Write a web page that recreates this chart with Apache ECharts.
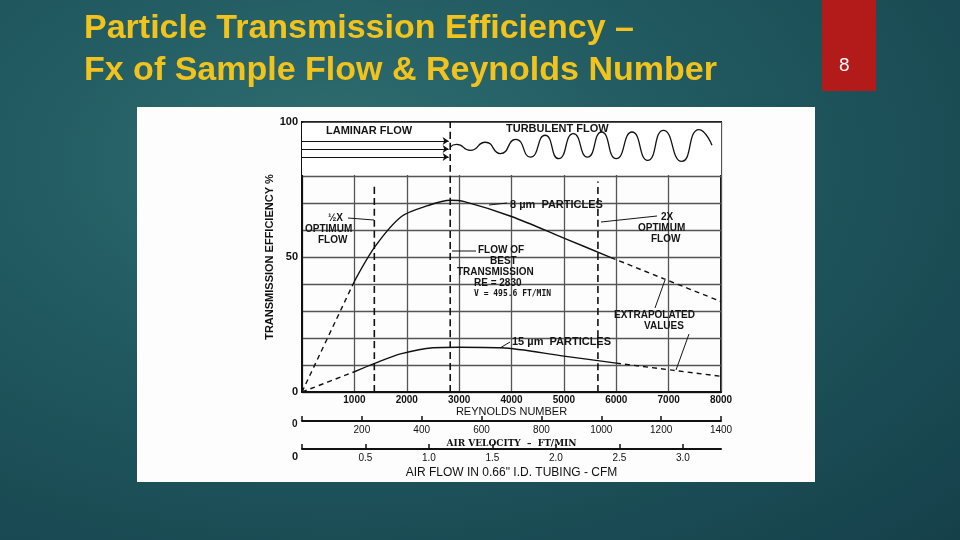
<!DOCTYPE html>
<html><head><meta charset="utf-8">
<script src="https://cdn.jsdelivr.net/npm/echarts@6/dist/echarts.min.js"></script>
<style>
html,body{margin:0;padding:0;width:960px;height:540px;overflow:hidden;
background:radial-gradient(ellipse at 35% 30%,#2f6f72 0%,#215a60 40%,#15404a 100%);}
#c{position:absolute;left:0;top:0;width:960px;height:540px;}
</style></head><body><div id="c"></div>
<script>
// Reynolds number vs efficiency (%), 8 µm particles
const re8  = [0, 1000, 1400, 1900, 2400, 2830, 3100, 4000, 5000, 5900, 6900, 8000];
const eff8 = [0, 41, 54, 65, 69, 71, 70.5, 65, 57, 49.8, 42, 33.5];
// 15 µm particles
const re15  = [0, 1000, 1400, 1900, 2500, 3000, 3800, 5000, 6000, 7100, 8000];
const eff15 = [0, 7.5, 10.7, 14.2, 16.4, 16.6, 16.4, 13.3, 10.7, 8, 5.8];
// turbulent-flow sketch (Reynolds, level %)
const waveRe  = [2830, 2950, 3214, 3500, 3787, 4080, 4360, 4640, 4900, 5180, 5450, 5720, 6000, 6300, 6600, 6900, 7250, 7580, 7828];
const waveVal = [90.7, 91.7, 89.5, 92.5, 88.3, 93.6, 87.0, 95.1, 86.4, 95.7, 87.0, 96.3, 86.4, 96.3, 85.8, 96.9, 85.4, 97.2, 91.4];
// reference flows
const refRe  = [1381, 2830, 5650];
const refTop = [76, 100, 78];
const laminarLevels = [93, 90, 87];
const yTicks = ['0', '50', '100'];
const velTicks = [0, 200, 400, 600, 800, 1000, 1200, 1400];
const cfmTicks = [0, 0.5, 1.0, 1.5, 2.0, 2.5, 3.0];

const pairs = (xs, ys) => xs.map((x, i) => [x, ys[i]]);
const d8 = pairs(re8, eff8), d15 = pairs(re15, eff15);
const F = 'Liberation Sans, Arial, sans-serif';
const lab = {color:'#111', fontFamily:F, fontWeight:'bold', fontSize:10};

const chart = echarts.init(document.getElementById('c'));
const txt = (x, y, s, o) => Object.assign({type:'text', left:x, top:y, z:50,
  style:Object.assign({text:s, fill:'#151515', font:'bold 10px ' + F}, o||{})});
const ln = (x1,y1,x2,y2) => ({type:'line', z:50, shape:{x1,y1,x2,y2}, style:{stroke:'#151515', lineWidth:1}});

const dashed = {color:'#111', width:1.4, type:[5,4]};
const solid = {color:'#111', width:1.4};
const mk = (data, style, smooth) => ({type:'line', data, symbol:'none', smooth:smooth||0.3, lineStyle:style, z:5, animation:false});

const series = [
  mk(d8.slice(0, 2), dashed, 0), mk(d8.slice(1, 10), solid), mk(d8.slice(9), dashed, 0),
  mk(d15.slice(0, 2), dashed, 0), mk(d15.slice(1, 9), solid), mk(d15.slice(8), dashed, 0),
  Object.assign(mk(pairs(waveRe, waveVal), {color:'#111', width:1.3}, 0.6), {
    markArea:{silent:true, itemStyle:{color:'#fff'}, z:1, data:[[{coord:[0,80.4]},{coord:[8000,99.6]}]]},
    markLine:{silent:true, symbol:['none','arrow'], symbolSize:6, label:{show:false},
      lineStyle:{color:'#111', width:1.2, type:'solid'},
      data: laminarLevels.map(v => [{coord:[0,v]},{coord:[2800,v]}])}
  })
];
refRe.forEach((r, i) => series.push(mk([[r,0],[r,refTop[i]]], {color:'#111', width:1.6, type:[7,4]}, 0)));
series.push({type:'line', xAxisIndex:1, yAxisIndex:1, data:[], symbol:'none'});
series.push({type:'line', xAxisIndex:2, yAxisIndex:2, data:[], symbol:'none'});

const extraAxis = (idx, max, interval, name, nameFont, ticks) => ({
  gridIndex:idx, type:'value', min:0, max, interval, position:'bottom',
  axisLine:{lineStyle:{color:'#111', width:2}},
  axisTick:{inside:true, length:5, lineStyle:{color:'#111', width:1.5}},
  splitLine:{show:false},
  axisLabel:Object.assign({}, lab, {fontWeight:'normal', margin:4, showMaxLabel:ticks.includes(max),
    formatter:v => v === 0 ? '' : (max < 10 ? v.toFixed(1) : String(v))}),
  name, nameLocation:'middle', nameGap:18, nameTextStyle:nameFont
});

const TF = 'bold 34px ' + F, TC = '#f2c31c';
chart.setOption({
  animation:false,
  graphic:[
    {type:'rect', z:-10, shape:{x:137,y:107,width:678,height:375}, style:{fill:'#fdfdfd'}},
    {type:'rect', z:-10, shape:{x:822,y:0,width:54,height:91}, style:{fill:'#b31b1b'}},
    txt(839, 56, '8', {fill:'#fff', font:'19px ' + F}),
    txt(84, 12, 'Particle Transmission Efficiency –', {fill:TC, font:TF}),
    txt(84, 54, 'Fx of Sample Flow & Reynolds Number', {fill:TC, font:TF}),
    txt(326, 125, 'LAMINAR FLOW', {font:'bold 11px ' + F}),
    txt(506, 123, 'TURBULENT FLOW', {font:'bold 11px ' + F}),
    txt(510, 199, '8 µm  PARTICLES', {font:'bold 11px ' + F}),
    txt(328, 213, '½X'), txt(305, 224, 'OPTIMUM'), txt(318, 235, 'FLOW'),
    txt(661, 212, '2X'), txt(638, 223, 'OPTIMUM'), txt(651, 234, 'FLOW'),
    txt(478, 245, 'FLOW OF'), txt(490, 256, 'BEST'), txt(457, 267, 'TRANSMISSION'),
    txt(474, 278, 'RE = 2830'), txt(474, 290, 'V = 495.6 FT/MIN', {font:'bold 8px DejaVu Sans Mono, monospace'}),
    txt(614, 310, 'EXTRAPOLATED'), txt(644, 321, 'VALUES'),
    txt(512, 336, '15 µm  PARTICLES', {font:'bold 11px ' + F}),
    txt(292, 419, '0'), txt(292, 451, '0', {font:'bold 11px ' + F}),
    ln(348,218,374,220), ln(489,205,507,203), ln(601,222,657,216), ln(452,251,476,251),
    ln(655,308,665,280), ln(689,334,676,370), ln(500,348,510,342)
  ],
  grid:[
    {left:302, top:122, width:419, height:270, show:true, borderColor:'#111', borderWidth:2},
    {left:302, top:420, width:419, height:1},
    {left:302, top:448, width:419, height:1}
  ],
  xAxis:[
    {gridIndex:0, type:'value', min:0, max:8000, interval:1000,
     axisLine:{lineStyle:{color:'#111', width:2}}, axisTick:{show:false},
     splitLine:{lineStyle:{color:'#555', width:1.3}},
     axisLabel:Object.assign({}, lab, {margin:3, formatter:v => v === 0 ? '' : String(v)}),
     name:'REYNOLDS NUMBER', nameLocation:'middle', nameGap:14,
     nameTextStyle:{color:'#111', fontFamily:F, fontSize:11}},
    extraAxis(1, 1400, 200, 'AIR VELOCITY  –  FT/MIN',
      {color:'#111', fontFamily:'DejaVu Serif, serif', fontSize:9, fontWeight:'bold'}, velTicks),
    extraAxis(2, 3.3, 0.5, 'AIR FLOW IN 0.66" I.D. TUBING - CFM',
      {color:'#111', fontFamily:F, fontSize:12}, cfmTicks)
  ],
  yAxis:[
    {gridIndex:0, type:'value', min:0, max:100, interval:10,
     axisLine:{lineStyle:{color:'#111', width:2}}, axisTick:{show:false},
     splitLine:{lineStyle:{color:'#555', width:1.3}},
     axisLabel:Object.assign({}, lab, {fontSize:11, margin:4,
       formatter:v => yTicks.includes(String(v)) ? String(v) : ''}),
     name:'TRANSMISSION EFFICIENCY %', nameLocation:'middle', nameGap:26,
     nameTextStyle:{color:'#111', fontFamily:F, fontWeight:'bold', fontSize:11}},
    {gridIndex:1, show:false}, {gridIndex:2, show:false}
  ],
  series
});
</script></body></html>
